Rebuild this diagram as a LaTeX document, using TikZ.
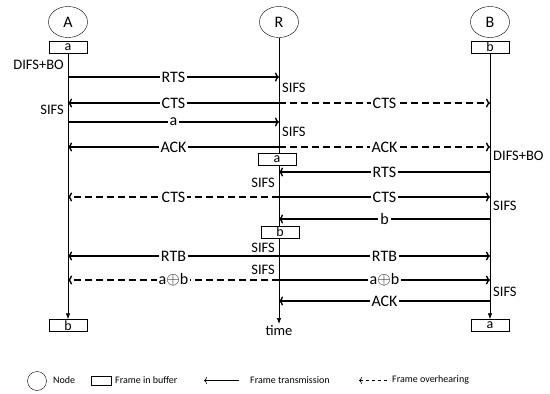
\documentclass[tikz,border=0pt]{standalone}
\usepackage{fontspec}
\setmainfont{Carlito}
\usetikzlibrary{shapes.geometric,arrows.meta}

\tikzset{
  seq/.style={x=1pt,y=-1pt,font=\fontsize{16}{18}\selectfont},
  peer/.style={ellipse,draw,minimum width=39pt,minimum height=31pt,inner sep=0pt,font=\fontsize{16}{18}\selectfont},
  buf/.style={draw,fill=white,minimum width=38pt,minimum height=12pt,inner sep=0pt,font=\fontsize{14}{14}\selectfont},
  life/.style={line width=0.7pt,-{Latex[length=6pt,width=4.5pt]}},
  msg/.style={line width=1.4pt,-{To[length=4pt,width=9pt]}},
  hear/.style={msg,dash pattern=on 7pt off 4pt},
  lbl/.style={midway,fill=white,inner sep=2pt},
  side/.style={font=\fontsize{14.5}{16}\selectfont,inner sep=1pt},
  legend/.style={font=\fontsize{10}{12}\selectfont,inner sep=1pt}
}

\begin{document}
\begin{tikzpicture}[seq]
  \useasboundingbox (0,0) rectangle (550,394);
  % peers and buffers
  \node[peer] (A) at (68,22) {A};
  \node[peer] (R) at (279,22) {R};
  \node[peer] (B) at (490,22) {B};
  \node[buf] (bufA) at (68,47) {a};
  \node[buf] (bufB) at (490,47) {b};
  \node[buf] (endA) at (68,325.5) {b};
  \node[buf] (endB) at (490,325.5) {a};
  \coordinate (time) at (279,324);
  % time lines
  \draw[life] (bufA) -- (endA);
  \draw[life] (bufB) -- (endB);
  \draw[life] (R) -- (time);
  \node[side,below] (timeT) at (time) {time};
  \node[buf] (bufRa) at (277,159) {a};
  \node[buf] (bufRb) at (280,232) {b};
  % frames
  \foreach \s/\t/\y/\kind/\lab in {A/R/77/msg/RTS, R/A/103/msg/CTS, R/B/103/hear/CTS,
      A/R/122/msg/a, R/A/147/msg/ACK, R/B/147/hear/ACK, B/R/172/msg/RTS,
      R/B/197/msg/CTS, R/A/197/hear/CTS, B/R/219/msg/b, R/A/256/msg/RTB,
      R/B/256/msg/RTB, R/A/280/hear/a$\oplus$b, R/B/280/msg/a$\oplus$b, B/R/301/msg/ACK}
    \draw[\kind] (\s |- 0,\y) -- node[lbl] {\lab} (\t |- 0,\y);
  % waiting times
  \foreach \n/\y/\w in {A/65/DIFS+BO, A/110/SIFS, R/183/SIFS, R/248/SIFS, R/270/SIFS}
    \node[side,anchor=east] (w\n\y) at ([xshift=-3pt]\n |- 0,\y) {\w};
  \foreach \n/\y/\w in {R/88/SIFS, R/132/SIFS, B/156/DIFS+BO, B/206/SIFS, B/292/SIFS}
    \node[side,anchor=west] (w\n\y) at ([xshift=2pt]\n |- 0,\y) {\w};
  % legend
  \node[draw,circle,minimum size=19pt,inner sep=0pt] (keyPeer) at (37,381) {};
  \node[legend,anchor=west] (keyPeerT) at (52,380) {Node};
  \node[draw,minimum width=20pt,minimum height=9pt,inner sep=0pt] (keyBuf) at (101,380.5) {};
  \node[legend,anchor=west] (keyBufT) at (114,380.5) {Frame in buffer};
  \coordinate (keyTxA) at (204,380.5);
  \coordinate (keyTxB) at (239,380.5);
  \draw[line width=0.6pt,-{To[length=3pt,width=7pt]}] (keyTxB) -- (keyTxA);
  \node[legend,anchor=west] (keyTxT) at (249,380) {Frame transmission};
  \coordinate (keyOhA) at (359,380.5);
  \coordinate (keyOhB) at (387,380.5);
  \draw[line width=0.6pt,dash pattern=on 3pt off 3pt,-{To[length=3pt,width=7pt]}] (keyOhB) -- (keyOhA);
  \node[legend,anchor=west] (keyOhT) at (391,380) {Frame overhearing};
\end{tikzpicture}
\end{document}
